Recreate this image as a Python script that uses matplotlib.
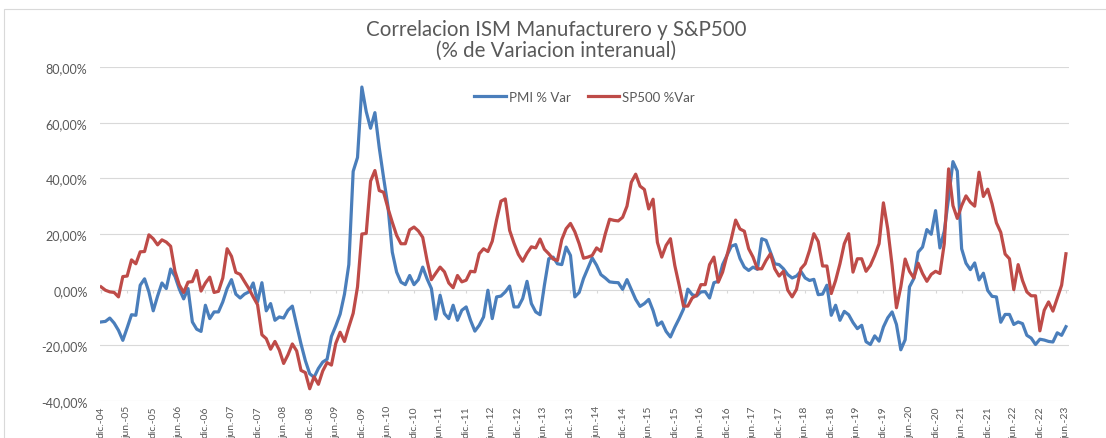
"""
Correlacion ISM Manufacturero y S&P500
Variacion interanual mensual, dic-04 a jun-23
"""

import pandas as pd
from matplotlib import pyplot as plt
from matplotlib.ticker import FuncFormatter
from matplotlib.patches import Rectangle

# PMI % Var (monthly, starting dic-04)
pmi_var = [
    -11.6, -11.4, -10.2, -12.0, -14.6, -18.2, -13.7, -9.0, -9.2, 1.6,
    3.9, -0.8, -7.6, -2.3, 2.4, 0.4, 7.4, 4.8, 0.2, -3.3,
    0.4, -11.6, -14.2, -15.0, -5.6, -10.4, -8.0, -8.0, -4.4, 0.4,
    3.6, -1.6, -3.0, -1.6, -0.8, 2.4, -4.4, 2.5, -7.6, -5.0,
    -11.0, -9.8, -10.2, -7.4, -5.9, -12.8, -19.5, -25.5, -30.2, -31.5,
    -28.3, -26.0, -25.0, -16.8, -13.0, -8.8, -1.6, 9.0, 42.5, 47.5,
    72.8, 64.0, 58.0, 63.6, 51.0, 40.2, 30.0, 13.5, 6.3, 2.7,
    1.8, 5.1, 1.8, 3.6, 8.1, 3.9, 0.4, -10.6, -2.0, -8.6,
    -10.4, -5.6, -11.0, -7.4, -6.2, -11.0, -14.9, -12.8, -9.8, -0.2,
    -10.4, -2.6, -2.3, -0.8, 1.3, -6.2, -6.2, -3.2, 3.0, -5.0,
    -8.0, -9.0, 1.6, 11.1, 11.7, 9.3, 9.0, 15.3, 12.3, -2.6,
    -1.0, 4.0, 7.7, 11.4, 8.8, 5.4, 4.2, 2.8, 2.6, 2.5,
    0.1, 3.6, 0.0, -3.5, -6.0, -5.0, -3.5, -7.5, -12.8, -11.6,
    -15.0, -17.0, -13.5, -10.4, -7.0, 0.2, -1.8, -2.3, -0.8, -0.7,
    -3.0, 2.5, 3.0, 9.0, 12.3, 15.6, 16.2, 11.2, 8.1, 6.9,
    8.1, 7.3, 18.3, 17.7, 13.5, 9.3, 9.0, 7.5, 5.4, 4.2,
    4.9, 6.6, 4.2, 3.3, 3.7, -1.8, -1.6, 1.6, -9.2, -5.6,
    -11.0, -7.8, -9.0, -11.8, -14.0, -12.8, -18.7, -19.7, -16.6, -18.5,
    -13.4, -10.1, -8.0, -12.5, -21.6, -18.0, 1.0, 4.0, 13.5, 15.3,
    21.6, 19.9, 28.4, 15.0, 21.0, 33.0, 46.0, 42.6, 14.7, 9.5,
    7.2, 9.6, 3.5, 5.9, -0.3, -2.4, -2.6, -11.7, -8.9, -8.9,
    -12.5, -11.6, -12.2, -16.4, -17.4, -19.7, -17.8, -18.1, -18.6, -18.8,
    -15.5, -16.4, -13.3,
]

# SP500 %Var (monthly, starting dic-04)
sp500_var = [
    1.0, -0.2, -0.8, -1.0, -2.6, 4.7, 4.9, 10.7, 9.3, 13.6,
    13.7, 19.7, 18.3, 16.1, 17.9, 17.1, 15.6, 6.6, 1.7, -1.0,
    2.7, 2.9, 6.9, -0.5, 2.4, 4.5, -1.0, -0.6, 4.2, 14.7,
    12.0, 6.2, 5.5, 2.9, 0.4, -2.6, -5.4, -16.2, -17.6, -21.4,
    -18.6, -21.7, -26.5, -23.4, -19.5, -22.0, -29.0, -29.8, -35.6, -31.3,
    -34.0, -29.2, -26.2, -27.1, -19.3, -15.3, -18.6, -13.4, -8.5, 1.0,
    20.0, 20.2, 39.0, 42.8, 35.6, 35.0, 29.3, 24.2, 19.5, 16.5,
    16.5, 21.5, 22.5, 21.1, 18.8, 10.5, 3.6, 5.9, 8.1, 6.4,
    2.4, 0.7, 5.1, 2.8, 3.4, 6.6, 6.4, 12.9, 14.7, 13.7,
    17.4, 25.1, 31.8, 32.6, 21.3, 16.7, 12.7, 10.2, 13.1, 15.4,
    15.0, 18.2, 14.5, 12.9, 11.0, 10.5, 18.0, 21.9, 23.8, 20.8,
    16.5, 11.3, 11.7, 12.3, 15.0, 13.8, 20.0, 25.3, 24.9, 24.7,
    26.0, 30.0, 38.6, 41.5, 37.2, 36.0, 29.0, 32.5, 17.0, 11.7,
    15.9, 18.3, 8.7, 1.6, -5.9, -5.9, -3.0, -2.0, 1.8, 1.8,
    9.0, 11.7, 2.7, 6.3, 12.3, 18.3, 25.0, 21.8, 21.0, 14.7,
    11.7, 7.5, 7.5, 10.5, 12.9, 7.5, 4.9, 6.6, -0.2, -2.6,
    0.1, 7.5, 9.3, 14.1, 20.1, 17.3, 8.5, 8.5, -1.4, 3.3,
    9.3, 16.5, 20.1, 6.3, 11.1, 11.1, 6.6, 8.7, 12.3, 16.5,
    31.2, 21.8, 8.7, -6.5, 1.0, 11.0, 6.6, 4.2, 9.5, 5.8,
    3.0, 5.5, 6.6, 5.8, 16.5, 43.4, 30.2, 25.6, 30.2, 33.7,
    31.4, 30.0, 42.2, 33.5, 36.1, 30.8, 24.0, 20.6, 12.8, 11.1,
    0.0, 9.0, 3.3, -0.8, -2.2, -2.2, -14.8, -7.4, -4.4, -7.7,
    -3.1, 1.6, 12.9,
]

month_names = {12: "dic.", 6: "jun."}
dates = pd.date_range("2004-12-01", periods=len(pmi_var), freq="MS")

FONT = "Lato"
GREY_TXT = "#595959"
GRID = "#D9D9D9"


def pct_label(v, pos):
    return f"{v:.2f}%".replace(".", ",")


def main():
    plt.rcParams["font.family"] = [FONT, "DejaVu Sans"]
    W, H = 1106, 439
    fig = plt.figure(figsize=(W / 100, H / 100), dpi=100)
    ax = fig.add_axes([100 / W, 1 - 402 / H, 969 / W, 334 / H])

    x = list(range(len(pmi_var)))
    ax.plot(x, pmi_var, color="#4A7EBB", lw=2.3, label="PMI % Var",
            solid_joinstyle="round")
    ax.plot(x, sp500_var, color="#BE4B48", lw=2.3, label="SP500 %Var",
            solid_joinstyle="round")

    # axes / grid
    ax.set_ylim(-40, 80)
    ax.set_yticks(range(-40, 81, 20))
    ax.yaxis.set_major_formatter(FuncFormatter(pct_label))
    ax.set_xlim(-0.25, len(x) - 1 + 0.7)
    ax.grid(axis="y", color=GRID, lw=0.8)
    ax.set_axisbelow(True)
    for s in ax.spines.values():
        s.set_visible(False)

    tick_pos = x[::6]
    tick_lab = [f"{month_names[d.month]}-{d.strftime('%y')}" for d in dates[::6]]
    ax.set_xticks(tick_pos, tick_lab, rotation=90)
    ax.tick_params(axis="x", length=0, pad=3, labelsize=7.5, labelcolor=GREY_TXT)
    ax.tick_params(axis="y", length=0, pad=9, labelsize=9, labelcolor=GREY_TXT)

    # small category ticks hanging from the 0% line
    ax.vlines(tick_pos, -1.2, 0, color=GRID, lw=0.8, zorder=0)

    leg = ax.legend(loc="center", bbox_to_anchor=(0.5, 0.91), ncol=2,
                    frameon=False, fontsize=9.5, handlelength=2.4,
                    handletextpad=0.2, columnspacing=1.3)
    for t in leg.get_texts():
        t.set_color(GREY_TXT)

    fig.text(556 / W, 1 - 30 / H, "Correlacion ISM Manufacturero y S&P500",
             ha="center", va="center", fontsize=14.8, color=GREY_TXT)
    fig.text(556 / W, 1 - 51 / H, "(% de Variacion interanual)",
             ha="center", va="center", fontsize=14.8, color=GREY_TXT)

    # chart frame
    fig.patches.append(Rectangle((4 / W, -0.1), 1.2, 1 - 10 / H + 0.1,
                                 transform=fig.transFigure, fill=False,
                                 ec=GRID, lw=0.8))

    fig.savefig("out.png", dpi=100)


if __name__ == "__main__":
    main()
